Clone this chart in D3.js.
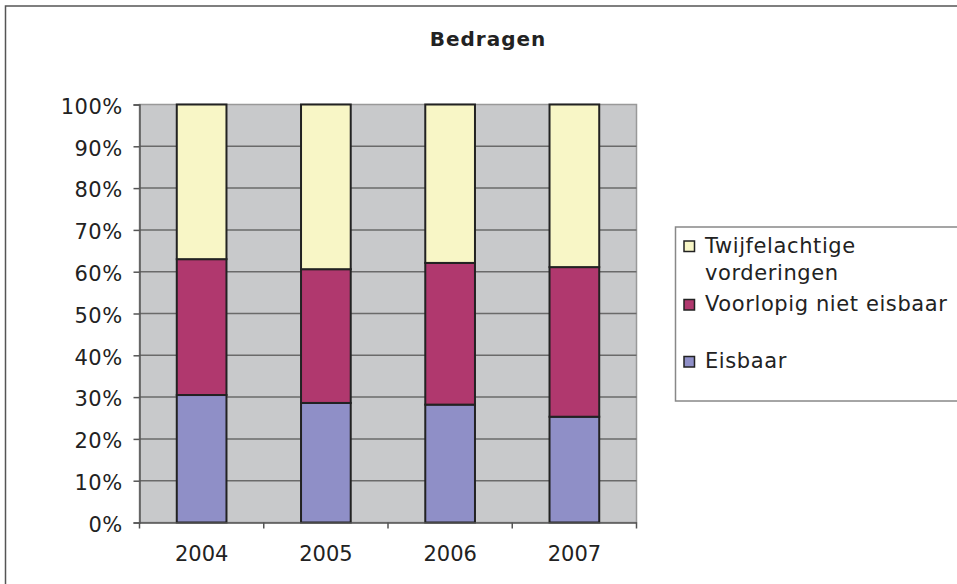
<!DOCTYPE html>
<html>
<head>
<meta charset="utf-8">
<script src="https://cdn.jsdelivr.net/npm/d3@7"></script>
<style>
  body { margin: 0; background: #fff; }
  text { font-family: "DejaVu Sans", Verdana, sans-serif; fill: #222; }
</style>
</head>
<body>
<script>
// data (percent of total per year)
const years = ["2004", "2005", "2006", "2007"];
const eisbaar = [30.5, 28.6, 28.2, 25.3];
const voorlopig = [32.5, 32.0, 33.9, 35.8];
const twijfel = [37.0, 39.4, 37.9, 38.9];
const seriesNames = ["Eisbaar", "Voorlopig niet eisbaar", "Twijfelachtige vorderingen"];
const colors = ["#8f8fc7", "#b0386e", "#f8f6c6"];
const yTicks = [0, 10, 20, 30, 40, 50, 60, 70, 80, 90, 100];

const w = 957;
const h = 584;
const plot = { left: 139.5, right: 636.5, top: 104.5, bottom: 522.5 };

const rows = years.map((y, i) => ({
  year: y,
  Eisbaar: eisbaar[i],
  "Voorlopig niet eisbaar": voorlopig[i],
  "Twijfelachtige vorderingen": twijfel[i]
}));
const stacked = d3.stack().keys(seriesNames)(rows);

const xScale = d3
  .scaleBand()
  .domain(years)
  .range([plot.left, plot.right])
  .paddingInner(0.6)
  .paddingOuter(0.3);

const yScale = d3.scaleLinear().domain([0, 100]).range([plot.bottom, plot.top]);

const svg = d3.select("body").append("svg").attr("width", w).attr("height", h);

// outer chart border (runs off the page to the right and bottom)
svg
  .append("rect")
  .attr("x", 5.5)
  .attr("y", 6)
  .attr("width", 1000)
  .attr("height", 1000)
  .attr("fill", "none")
  .attr("stroke", "#555")
  .attr("stroke-width", 1.5);

// title
svg
  .append("text")
  .attr("x", 488)
  .attr("y", 46)
  .attr("text-anchor", "middle")
  .attr("font-size", 20)
  .attr("font-weight", "bold")
  .attr("letter-spacing", 1)
  .text("Bedragen");

// plot area
svg
  .append("rect")
  .attr("x", plot.left)
  .attr("y", plot.top)
  .attr("width", plot.right - plot.left)
  .attr("height", plot.bottom - plot.top)
  .attr("fill", "#c8c9cb")
  .attr("stroke", "#999")
  .attr("stroke-width", 1.5);

// gridlines
svg
  .append("g")
  .selectAll("line")
  .data(yTicks.filter((t) => t > 0 && t < 100))
  .enter()
  .append("line")
  .attr("x1", plot.left)
  .attr("x2", plot.right)
  .attr("y1", (d) => yScale(d))
  .attr("y2", (d) => yScale(d))
  .attr("stroke", "#6a6a6a")
  .attr("stroke-width", 1.5);

// bars
svg
  .append("g")
  .selectAll("g")
  .data(stacked)
  .enter()
  .append("g")
  .attr("fill", (d, i) => colors[i])
  .selectAll("rect")
  .data((d) => d)
  .enter()
  .append("rect")
  .attr("x", (d) => xScale(d.data.year))
  .attr("width", xScale.bandwidth())
  .attr("y", (d) => yScale(d[1]))
  .attr("height", (d) => yScale(d[0]) - yScale(d[1]))
  .attr("stroke", "#222")
  .attr("stroke-width", 2);

// Y axis
const yAxis = d3
  .axisLeft(yScale)
  .tickValues(yTicks)
  .tickFormat((d) => d + "%")
  .tickSize(6)
  .tickPadding(11);

const yG = svg
  .append("g")
  .attr("transform", `translate(${plot.left},0)`)
  .call(yAxis);
yG.select(".domain").attr("stroke", "#555").attr("stroke-width", 1.5);
yG.selectAll(".tick line").attr("stroke", "#555").attr("stroke-width", 1.5);
yG.selectAll(".tick text")
  .attr("font-size", 21)
  .attr("letter-spacing", 0.4)
  .attr("dy", "0.42em")
  .style("font-family", '"DejaVu Sans", Verdana, sans-serif')
  .attr("fill", "#222");

// X axis, ticks sit between the categories
const step = xScale.step();
const x0 = plot.left;
const xAxis = d3
  .axisBottom(xScale)
  .tickSize(0)
  .tickPadding(24);

const xG = svg
  .append("g")
  .attr("transform", `translate(0,${plot.bottom})`)
  .call(xAxis);
xG.select(".domain").attr("stroke", "#555").attr("stroke-width", 1.5);
xG.selectAll(".tick text")
  .attr("font-size", 21)
  .attr("dy", "0.71em")
  .style("font-family", '"DejaVu Sans", Verdana, sans-serif')
  .attr("fill", "#222");

xG.selectAll(".sep")
  .data(d3.range(years.length + 1))
  .enter()
  .append("line")
  .attr("x1", (i) => x0 + i * step)
  .attr("x2", (i) => x0 + i * step)
  .attr("y1", 0)
  .attr("y2", 6)
  .attr("stroke", "#555")
  .attr("stroke-width", 1.5);

// legend (box runs off the right edge)
const legend = svg.append("g");
legend
  .append("rect")
  .attr("x", 675.5)
  .attr("y", 227)
  .attr("width", 400)
  .attr("height", 174)
  .attr("fill", "#fff")
  .attr("stroke", "#888")
  .attr("stroke-width", 1.5);

const legendItems = [
  { lines: ["Twijfelachtige", "vorderingen"], color: colors[2], y: 252.5 },
  { lines: ["Voorlopig niet eisbaar"], color: colors[1], y: 311 },
  { lines: ["Eisbaar"], color: colors[0], y: 368 }
];

legendItems.forEach((item) => {
  legend
    .append("rect")
    .attr("x", 684)
    .attr("y", item.y - 11.5)
    .attr("width", 10.5)
    .attr("height", 10.5)
    .attr("fill", item.color)
    .attr("stroke", "#222")
    .attr("stroke-width", 1.5);
  item.lines.forEach((line, j) => {
    legend
      .append("text")
      .attr("x", 705)
      .attr("y", item.y + j * 27)
      .attr("font-size", 21)
      .attr("letter-spacing", 0.6)
      .text(line);
  });
});
</script>
</body>
</html>
